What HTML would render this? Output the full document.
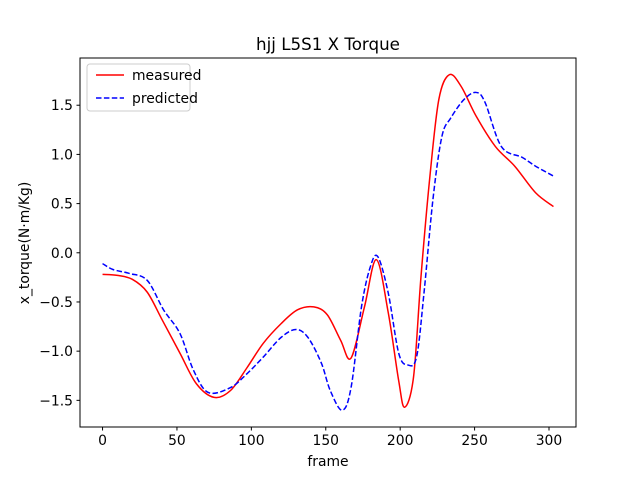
<!DOCTYPE html>
<html><head><meta charset="utf-8"><style>
body{margin:0;background:#fff;}
svg{display:block;font-family:"DejaVu Sans","Liberation Sans",sans-serif;}
</style></head><body>
<svg id="chart" width="640" height="480">
<rect width="640" height="480" fill="#fff"/>
<text x="328" y="50" font-size="16.7" text-anchor="middle">hjj L5S1 X Torque</text>
<g id="plot"></g>
<rect x="80" y="58" width="496" height="369" fill="none" stroke="#000" stroke-width="1"/>
<text x="328" y="466" font-size="13.9" text-anchor="middle">frame</text>
<text transform="translate(29,243) rotate(-90)" font-size="13.9" text-anchor="middle">x_torque(N·m/Kg)</text>
<g>
<rect x="87" y="64" width="103" height="47" rx="3" fill="#fff" fill-opacity="0.8" stroke="#ccc"/>
<line x1="96" y1="75" x2="124" y2="75" stroke="red" stroke-width="1.5"/>
<text x="132" y="80" font-size="13.9">measured</text>
<line x1="96" y1="98" x2="124" y2="98" stroke="blue" stroke-width="1.5" stroke-dasharray="5.5,2.4"/>
<text x="132" y="103" font-size="13.9">predicted</text>
</g>
</svg>
<script>
const xTicks=[0,50,100,150,200,250,300];
const yTicks=[-1.5,-1.0,-0.5,0.0,0.5,1.0,1.5];
const measuredFrames=[0,10,20,30,40,52,63,75,86,97,108,120,131,142,151,160,167,176,184,192,199,203,209,214,220,226,233,241,251,264,277,291,303];
const measuredValues=[-0.22,-0.23,-0.27,-0.40,-0.68,-1.02,-1.33,-1.47,-1.40,-1.17,-0.92,-0.72,-0.58,-0.55,-0.63,-0.89,-1.07,-0.55,-0.07,-0.61,-1.30,-1.57,-1.26,-0.24,0.78,1.56,1.81,1.69,1.39,1.08,0.88,0.61,0.47];
const predictedFrames=[0,7,18,30,41,52,61,71,86,97,108,120,130,138,147,153,161,167,174,180,185,192,199,205,211,216,222,228,234,243,251,257,268,282,291,303];
const predictedValues=[-0.11,-0.17,-0.21,-0.28,-0.58,-0.82,-1.19,-1.42,-1.37,-1.23,-1.06,-0.86,-0.78,-0.86,-1.12,-1.40,-1.60,-1.37,-0.55,-0.14,-0.04,-0.41,-1.02,-1.14,-1.06,-0.41,0.54,1.18,1.37,1.56,1.63,1.53,1.08,0.97,0.88,0.78];
const L=80,R=576,T=58,B=427,X0=-15.15,X1=318.15,Y0=-1.771,Y1=1.98;
const sx=v=>L+(v-X0)/(X1-X0)*(R-L);
const sy=v=>B-(v-Y0)/(Y1-Y0)*(B-T);
const NS="http://www.w3.org/2000/svg";
const g=document.getElementById('plot');
function mk(t,a){const e=document.createElementNS(NS,t);for(const k in a)e.setAttribute(k,a[k]);g.appendChild(e);return e;}
xTicks.forEach(t=>{
 const l=mk('line',{x1:sx(t),x2:sx(t),y1:B,y2:B+3.5,stroke:'#000'});
 
 
 const s=mk('text',{x:sx(t),y:B+18,'font-size':13.9,'text-anchor':'middle'});s.textContent=t;
 
 
});
yTicks.forEach(t=>{
 const l=mk('line',{x1:L-3.5,x2:L,y1:sy(t),y2:sy(t),stroke:'#000'});
 
 
 const s=mk('text',{x:L-7,y:sy(t)+5,'font-size':13.9,'text-anchor':'end'});s.textContent=(t<0?'\u2212':'')+Math.abs(t).toFixed(1);
 
 
});
function path(fs,vs){
 const p=fs.map((f,i)=>[sx(f),sy(vs[i])]);
 let d='M'+p[0][0]+','+p[0][1];
 for(let i=0;i<p.length-1;i++){
  const p0=p[Math.max(0,i-1)],p1=p[i],p2=p[i+1],p3=p[Math.min(p.length-1,i+2)];
  const c1=[p1[0]+(p2[0]-p0[0])/6,p1[1]+(p2[1]-p0[1])/6];
  const c2=[p2[0]-(p3[0]-p1[0])/6,p2[1]-(p3[1]-p1[1])/6];
  d+=` C${c1[0]},${c1[1]} ${c2[0]},${c2[1]} ${p2[0]},${p2[1]}`;
 }
 return d;
}
const m=mk('path',{d:path(measuredFrames,measuredValues),fill:'none',stroke:'red','stroke-width':1.5});


const p=mk('path',{d:path(predictedFrames,predictedValues),fill:'none',stroke:'blue','stroke-width':1.5,'stroke-dasharray':'5.5,2.4'});


</script>
</body></html>
